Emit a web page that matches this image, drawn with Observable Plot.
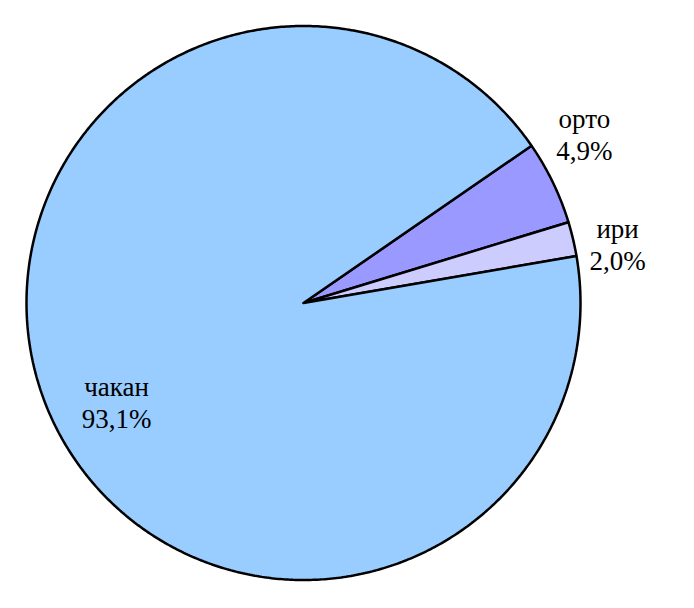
<!DOCTYPE html>
<html>
<head>
<meta charset="utf-8">
<script src="https://cdn.jsdelivr.net/npm/d3@7"></script>
<script src="https://cdn.jsdelivr.net/npm/@observablehq/plot@0.6"></script>
<style>
  html, body { margin: 0; padding: 0; background: #fff; }
</style>
</head>
<body>
<div id="chart"></div>
<script>
// Data
const categories = ["орто", "ири", "чакан"];
const values = [4.9, 2.0, 93.1];
const colors = ["#9999FF", "#CCCCFF", "#99CCFF"];
// label anchors (in pie-radius units)
const labelX = [1.014, 1.134, -0.675];
const labelY = [0.61, 0.213, -0.357];

const startDeg = 55.4; // clockwise from 12 o'clock
const pie = d3.pie().sort(null).value(d => d)
  .startAngle(startDeg * Math.PI / 180)
  .endAngle(startDeg * Math.PI / 180 + 2 * Math.PI);
const arcs = pie(values);

const pts = [];
arcs.forEach((a, i) => {
  const name = categories[i];
  pts.push({name, x: 0, y: 0});
  const n = Math.max(4, Math.ceil((a.endAngle - a.startAngle) / (2 * Math.PI) * 720));
  for (let k = 0; k <= n; k++) {
    const t = a.startAngle + (a.endAngle - a.startAngle) * k / n;
    pts.push({name, x: Math.sin(t), y: Math.cos(t)});
  }
  pts.push({name, x: 0, y: 0});
});

const fmt = v => v.toFixed(1).replace(".", ",") + "%";
const labels = categories.map((c, i) => ({
  text: c + "\n" + fmt(values[i]), x: labelX[i], y: labelY[i]
}));

const chart = Plot.plot({
  width: 694,
  height: 608,
  margin: 0,
  style: {background: "#fff"},
  x: {domain: [-1, 1], range: [26, 580], axis: null},
  y: {domain: [-1, 1], range: [579.5, 25.5], axis: null},
  color: {domain: categories, range: colors},
  marks: [
    Plot.line(pts, {
      x: "x", y: "y", z: "name", fill: "name",
      stroke: "#000", strokeWidth: 2.5, strokeLinejoin: "miter",
      curve: "linear"
    }),
    Plot.text(labels, {
      x: "x", y: "y", text: "text",
      fontSize: 27, fontFamily: "Liberation Serif",
      lineHeight: 1.17, textAnchor: "middle", lineAnchor: "middle", fill: "#000"
    })
  ]
});
document.getElementById("chart").appendChild(chart);
</script>
</body>
</html>
